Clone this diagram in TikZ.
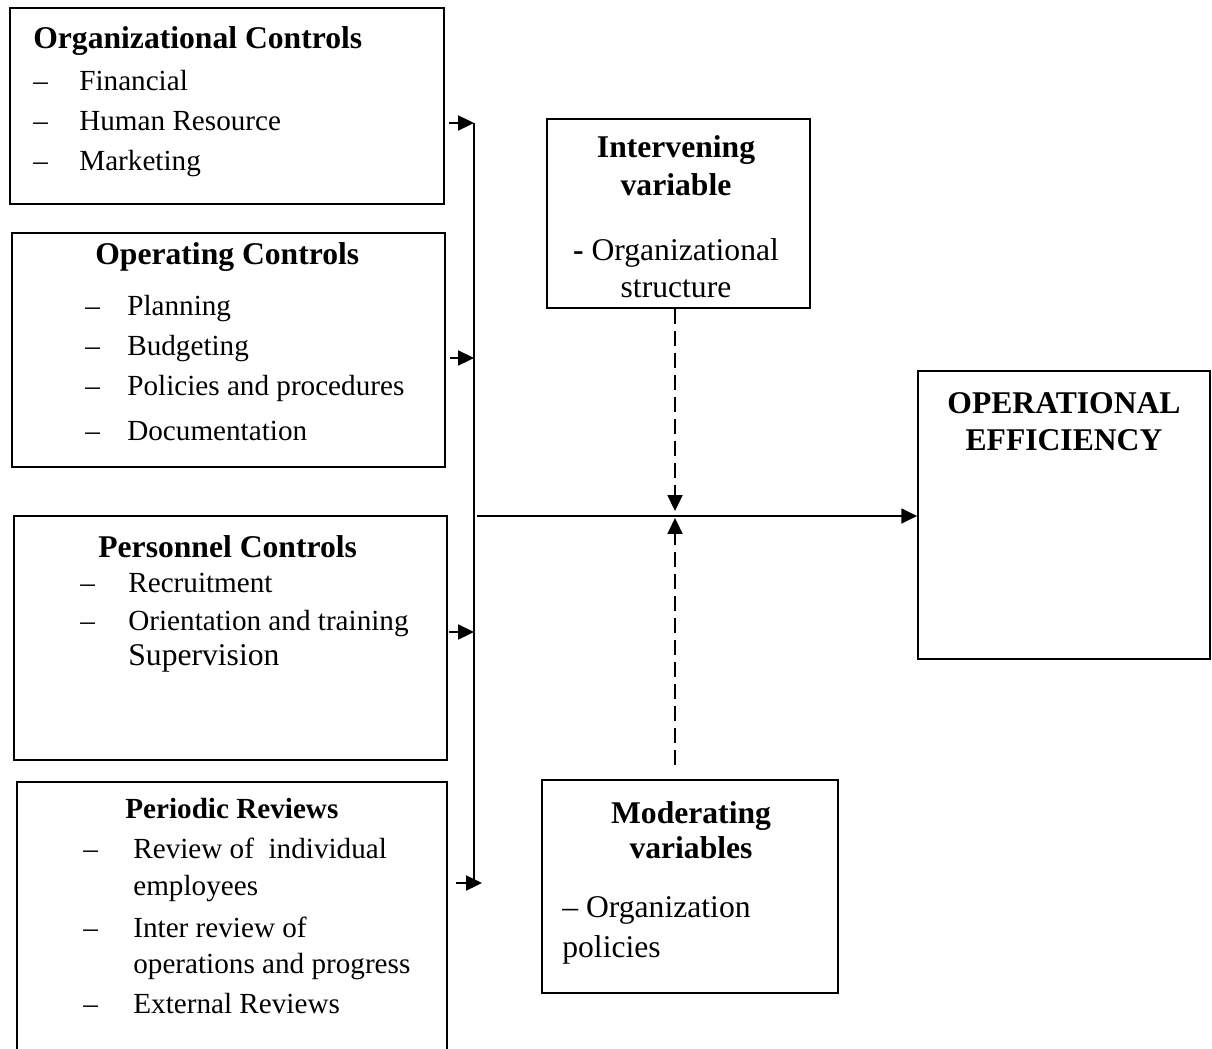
\documentclass[tikz,border=0pt]{standalone}
\usepackage{fontspec}
\setmainfont{Liberation Serif}
\usepackage{tikz}
\usetikzlibrary{positioning, calc, fit, arrows.meta}
\newcommand{\hdfont}{\fontsize{18}{21}\selectfont\bfseries}
\newcommand{\itfont}{\fontsize{16.6}{20}\selectfont}
\newcommand{\bgfont}{\fontsize{18}{21}\selectfont}

\begin{document}
\begin{tikzpicture}[x=0.02cm, y=-0.02cm,
		box/.style={draw, line width=1pt, inner sep=0pt},
		head/.style={font=\hdfont, inner sep=0pt, anchor=base west},
		item/.style={font=\itfont, inner sep=0pt, anchor=base west},
		bigitem/.style={font=\bgfont, inner sep=0pt, anchor=base west},
		wire/.style={line width=1pt},
		feed/.style={line width=1pt, -{Triangle[length=9pt,width=8.5pt]}},
		dfeed/.style={feed, dash pattern=on 8.5pt off 4pt}]
		\useasboundingbox (0,0) rectangle (1212,1048);
		
		% boxes
		\node[box, fit={(10,8) (444,204)}] (org) {};
		\node[box, fit={(12,233) (445,467)}] (oper) {};
		\node[box, fit={(14,516) (447,760)}] (pers) {};
		\node[box, fit={(17,782) (447,1060)}] (revw) {};
		\node[box, fit={(547,119) (810,308)}] (inter) {};
		\node[box, fit={(542,780) (838,993)}] (moder) {};
		\node[box, fit={(918,371) (1210,659)}] (eff) {};
		
		% organizational controls
		\node[head] (orghead) at (33,48) {Organizational Controls};
		\foreach \y/\t in {90/Financial, 130/Human Resource, 170/Marketing}{
			\node[item] (orgdash\y) at (33,\y) {\textendash};
			\node[item] (orgitem\y) at (79,\y) {\t};
		}
		
		% operating controls
		\node[head] (operhead) at (95,264) {Operating Controls};
		\foreach \y/\t in {315/Planning, 355/Budgeting, 395/Policies and procedures, 440/Documentation}{
			\node[item] (operdash\y) at (85,\y) {\textendash};
			\node[item] (operitem\y) at (127,\y) {\t};
		}
		
		% personnel controls
		\node[head] (pershead) at (98,557) {Personnel Controls};
		\foreach \y/\t in {592/Recruitment, 630/Orientation and training}{
			\node[item] (persdash\y) at (80,\y) {\textendash};
			\node[item] (persitem\y) at (128,\y) {\t};
		}
		\node[bigitem] (perssup) at (128,665) {Supervision};
		
		% periodic reviews
		\node[item, font=\itfont\bfseries] (revwhead) at (125,818) {Periodic Reviews};
		\foreach \y in {858, 937, 1013}
			\node[item] (revwdash\y) at (83,\y) {\textendash};
		\node[item] (revwitem1) at (133,858) {Review of\ \ individual};
		\node[item] (revwitem2) at (133,895) {employees};
		\node[item] (revwitem3) at (133,937) {Inter review of};
		\node[item] (revwitem4) at (133,973) {operations and progress};
		\node[item] (revwitem5) at (133,1013) {External Reviews};
		
		% intervening variable
		\node[head, anchor=base] (interhead1) at (676,157) {Intervening};
		\node[head, anchor=base] (interhead2) at (676,195) {variable};
		\node[bigitem, anchor=base] (interitem1) at (676,260) {\textbf{-} Organizational};
		\node[bigitem, anchor=base] (interitem2) at (676,297) {structure};
		
		% moderating variables
		\node[head, anchor=base] (moderhead1) at (691,823) {Moderating};
		\node[head, anchor=base] (moderhead2) at (691,858) {variables};
		\node[bigitem] (moderitem1) at (562,917) {\textendash{} Organization};
		\node[bigitem] (moderitem2) at (562,957) {policies};
		
		% operational efficiency
		\node[head, anchor=base] (effhead1) at (1064,413) {OPERATIONAL};
		\node[head, anchor=base] (effhead2) at (1064,450) {EFFICIENCY};
		
		% bus and arrows
		\coordinate (bus1) at (474,123);
		\coordinate (bus2) at (474,358);
		\coordinate (bus3) at (474,632);
		\coordinate (bus4) at (474,883);
		\coordinate (revwin) at (482,883);
		\draw[wire] (bus1) -- (bus4);
		\draw[feed, shorten <=2.3pt] (org.east |- bus1) -- (bus1);
		\draw[feed, shorten <=2.3pt] (oper.east |- bus2) -- (bus2);
		\draw[feed, shorten <=0.6pt] (pers.east |- bus3) -- (bus3);
		\draw[feed, shorten <=4.6pt] (revw.east |- revwin) -- (revwin);
		
		\coordinate (junc) at (477,516);
		\draw[feed] (junc) -- (eff.west |- junc);
		
		\coordinate (meetup) at (675,511);
		\coordinate (meetdn) at (675,518);
		\coordinate (modtop) at (675,765);
		\draw[dfeed] (inter.south -| meetup) -- (meetup);
		\draw[dfeed] (modtop) -- (meetdn);
\end{tikzpicture}
\end{document}
